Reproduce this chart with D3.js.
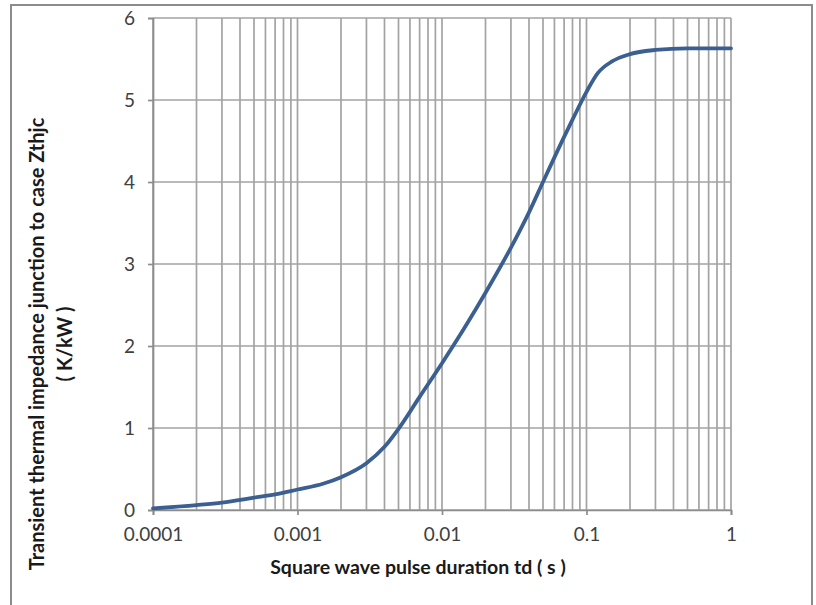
<!DOCTYPE html>
<html><head><meta charset="utf-8">
<script src="https://cdn.jsdelivr.net/npm/d3@7"></script>
<style>html,body{margin:0;padding:0;background:#fff;}svg{display:block;}</style>
</head><body>
<svg id="c" width="816" height="605"></svg>
<script>
const pulseDuration = [0.0001,0.0002,0.0003,0.0005,0.0007,0.001,0.0015,0.002,0.003,0.004,0.005,0.007,0.01,0.015,0.02,0.03,0.04,0.05,0.07,0.08,0.1,0.12,0.15,0.2,0.3,0.5,1];
const zthjc =        [0.02,  0.06,  0.09,  0.15,  0.19,  0.25, 0.32,  0.40, 0.57, 0.77, 0.99, 1.38, 1.79,2.28, 2.65,3.2, 3.63,4.0, 4.55,4.76,5.1,5.33,5.47,5.56,5.61,5.63,5.63];
const xTickValues = [0.0001,0.001,0.01,0.1,1];
const xTickLabels = ["0.0001","0.001","0.01","0.1","1"];
const yTickValues = [0,1,2,3,4,5,6];
const yTitleLines = ["Transient thermal impedance junction to case Zthjc","( K/kW )"];
const xTitle = "Square wave pulse duration td ( s )";

const svg = d3.select("#c");
const font = "Lato, 'Open Sans', sans-serif";
const grid = "#a3a3a3";

// chart frame
svg.append("rect").attr("x",11).attr("y",5).attr("width",801).attr("height",610)
  .attr("fill","#fff").attr("stroke","#8c8c8c").attr("stroke-width",2);

const x = d3.scaleLog().domain([1e-4,1]).range([153,731]);
const y = d3.scaleLinear().domain([0,6]).range([510,18]);

// minor + major vertical gridlines
const vLines = [];
for (let e=-4; e<0; e++) for (let m=1; m<=9; m++) vLines.push(m*Math.pow(10,e));
vLines.push(1);
svg.append("g").selectAll("line").data(vLines).join("line")
  .attr("x1",d=>x(d)).attr("x2",d=>x(d)).attr("y1",y(6)).attr("y2",y(0))
  .attr("stroke",grid).attr("stroke-width",1.7);

// horizontal gridlines
svg.append("g").selectAll("line").data(yTickValues).join("line")
  .attr("x1",x(1e-4)).attr("x2",x(1)).attr("y1",d=>y(d)).attr("y2",d=>y(d))
  .attr("stroke",grid).attr("stroke-width",1.7);

// y axis
const yAxis = svg.append("g").attr("transform",`translate(${x(1e-4)},0)`)
  .call(d3.axisLeft(y).tickValues(yTickValues).tickSize(5).tickPadding(13).tickFormat(d3.format("d")));
yAxis.select(".domain").attr("stroke","#8c8c8c").attr("stroke-width",1.7);
yAxis.selectAll(".tick line").attr("stroke","#8c8c8c").attr("stroke-width",1.7);
yAxis.selectAll("text").attr("font-family",font).attr("font-size",19).attr("fill","#404040");

// x axis
const xAxis = svg.append("g").attr("transform",`translate(0,${y(0)})`)
  .call(d3.axisBottom(x).tickValues(xTickValues).tickSize(5).tickPadding(13)
    .tickFormat((d,i)=>xTickLabels[i]));
xAxis.select(".domain").attr("stroke","#8c8c8c").attr("stroke-width",1.7);
xAxis.selectAll(".tick line").attr("stroke","#8c8c8c").attr("stroke-width",1.7);
xAxis.selectAll("text").attr("font-family",font).attr("font-size",19).attr("fill","#404040");

// curve
const line = d3.line().x((d,i)=>x(pulseDuration[i])).y(d=>y(d)).curve(d3.curveMonotoneX);
svg.append("path").attr("d",line(zthjc)).attr("fill","none")
  .attr("stroke","#3a5f90").attr("stroke-width",3.8).attr("stroke-linejoin","round").attr("stroke-linecap","round");

// axis titles
svg.append("text").attr("x",418).attr("y",574).attr("text-anchor","middle")
  .attr("font-family",font).attr("font-weight","bold").attr("font-size",19.5).attr("fill","#1a1a1a")
  .text(xTitle);
const yt = svg.append("g").attr("transform","translate(0,344) rotate(-90)");
yt.append("text").attr("x",0).attr("y",44).attr("text-anchor","middle")
  .attr("font-family",font).attr("font-weight","bold").attr("font-size",20).attr("fill","#1a1a1a")
  .text(yTitleLines[0]);
yt.append("text").attr("x",0).attr("y",72).attr("text-anchor","middle")
  .attr("font-family",font).attr("font-weight","bold").attr("font-size",20).attr("fill","#1a1a1a")
  .text(yTitleLines[1]);
</script>
</body></html>
